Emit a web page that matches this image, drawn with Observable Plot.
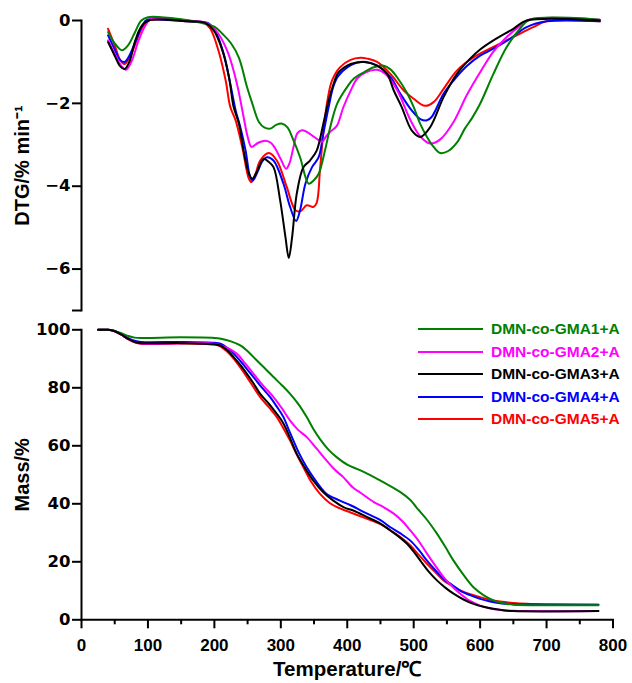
<!DOCTYPE html>
<html>
<head>
<meta charset="utf-8">
<script src="https://cdn.jsdelivr.net/npm/d3@7"></script>
<script src="https://cdn.jsdelivr.net/npm/@observablehq/plot@0.6"></script>
<style>
  html, body { margin: 0; padding: 0; background: #fff; }
  #wrap { position: relative; width: 632px; height: 683px; overflow: hidden; }
  #wrap svg { display: block; }
  #legend { position: absolute; left: 418px; top: 318px; font-family: "Liberation Sans", Arial, sans-serif; font-weight: bold; font-size: 15.5px; }
  .row { display: flex; align-items: center; height: 22.5px; }
  .sw { width: 65px; height: 2px; margin-right: 8px; flex: none; }
  .ytick text { font-family: "DejaVu Sans", sans-serif; font-size: 16.5px; }
</style>
</head>
<body>
<div id="wrap"></div>
<script>
// ---------- labels / ticks ----------
const seriesNames = ["DMN-co-GMA1+A", "DMN-co-GMA2+A", "DMN-co-GMA3+A", "DMN-co-GMA4+A", "DMN-co-GMA5+A"];
const seriesColors = ["#008000", "#ff00ff", "#000000", "#0000ff", "#ff0000"];
const xLabel = "Temperature/\u2103";
const dtgLabel = "DTG/% min\u207B\u00B9";
const massLabel = "Mass/%";
const xTicks = [0, 100, 200, 300, 400, 500, 600, 700, 800];
const xMinorTicks = [50, 150, 250, 350, 450, 550, 650, 750];
const dtgTicks = [0, -2, -4, -6, -7];
const massTicks = [0, 20, 40, 60, 80, 100];
const xDomain = [0, 800];
const dtgDomain = [-7, 0];
const massDomain = [0, 100];

// ---------- DTG curves [temperature, DTG] ----------
const dtg1 = [[40,-0.28],[50,-0.55],[61,-0.72],[70,-0.6],[80,-0.3],[90,0.0],[100,0.08],[120,0.08],[150,0.03],[186,-0.08],[200,-0.15],[212,-0.32],[225,-0.55],[237,-0.9],[249,-1.6],[257,-2.0],[267,-2.45],[275,-2.58],[284,-2.61],[293,-2.52],[302,-2.49],[310,-2.58],[318,-2.85],[329,-3.3],[342,-3.94],[350,-3.85],[357,-3.7],[367,-3.1],[374,-2.6],[385,-2.0],[400,-1.6],[410,-1.4],[425,-1.25],[440,-1.13],[455,-1.09],[465,-1.18],[475,-1.37],[490,-1.75],[500,-2.09],[510,-2.5],[520,-2.81],[530,-3.05],[540,-3.2],[552,-3.15],[565,-2.95],[577,-2.61],[588,-2.35],[600,-2.01],[620,-1.29],[640,-0.64],[660,-0.2],[675,0.02],[780,0.02]];
const dtg2 = [[40,-0.48],[50,-0.8],[60,-1.1],[67,-1.19],[75,-1.0],[86,-0.48],[95,-0.15],[104,0.04],[130,0.05],[160,0.0],[191,-0.08],[206,-0.32],[221,-0.8],[234,-1.53],[244,-2.33],[250,-2.8],[256,-3.05],[266,-2.95],[277,-2.9],[285,-2.95],[292,-3.1],[300,-3.35],[308,-3.58],[313,-3.45],[319,-3.06],[325,-2.72],[332,-2.65],[339,-2.69],[352,-2.83],[362,-2.93],[368,-2.8],[374,-2.69],[384,-2.55],[394,-2.1],[405,-1.7],[415,-1.4],[428,-1.25],[445,-1.19],[458,-1.3],[475,-1.68],[495,-2.4],[510,-2.8],[525,-2.97],[540,-2.87],[560,-2.45],[580,-1.8],[600,-1.25],[620,-0.75],[640,-0.4],[660,-0.13],[675,0.03],[780,0.02]];
const dtg3 = [[40,-0.52],[50,-0.85],[58,-1.1],[65,-1.17],[72,-1.0],[81,-0.48],[90,-0.15],[101,0.0],[130,0.02],[160,-0.02],[185,-0.05],[199,-0.24],[212,-0.72],[222,-1.37],[229,-2.09],[237,-2.49],[244,-3.14],[252,-3.7],[257,-3.82],[264,-3.65],[274,-3.34],[281,-3.4],[289,-3.54],[299,-4.34],[307,-5.23],[312,-5.73],[317,-5.23],[324,-4.18],[334,-3.54],[344,-3.38],[354,-3.14],[364,-2.49],[372,-1.93],[379,-1.55],[386,-1.27],[394,-1.15],[405,-1.05],[425,-1.0],[445,-1.09],[460,-1.29],[470,-1.69],[482,-2.09],[497,-2.65],[510,-2.81],[525,-2.57],[545,-1.85],[565,-1.29],[585,-0.92],[600,-0.7],[620,-0.48],[650,-0.2],[670,0.0],[780,0.0]];
const dtg4 = [[40,-0.36],[50,-0.7],[58,-0.95],[65,-1.0],[72,-0.85],[84,-0.4],[92,-0.1],[99,0.02],[130,0.01],[160,-0.02],[190,-0.06],[201,-0.24],[214,-0.8],[224,-1.53],[232,-2.17],[239,-2.57],[247,-3.14],[254,-3.78],[258,-3.86],[265,-3.65],[272,-3.4],[279,-3.3],[289,-3.38],[304,-3.94],[314,-4.5],[323,-4.84],[329,-4.58],[337,-3.94],[347,-3.54],[357,-3.3],[364,-2.73],[372,-2.09],[379,-1.6],[386,-1.35],[400,-1.13],[420,-1.0],[445,-1.09],[465,-1.37],[480,-1.77],[497,-2.17],[510,-2.38],[520,-2.41],[527,-2.33],[545,-1.77],[560,-1.45],[580,-1.1],[600,-0.85],[620,-0.68],[645,-0.44],[670,-0.16],[700,-0.02],[780,-0.02]];
const dtg5 = [[40,-0.2],[50,-0.6],[58,-0.95],[65,-1.05],[75,-0.8],[89,-0.24],[97,-0.05],[104,0.02],[130,0.02],[160,-0.02],[185,-0.06],[194,-0.2],[206,-0.72],[217,-1.45],[224,-2.09],[232,-2.41],[242,-3.06],[252,-3.82],[256,-3.9],[262,-3.7],[269,-3.38],[282,-3.2],[294,-3.38],[309,-4.02],[322,-4.58],[330,-4.6],[339,-4.46],[349,-4.5],[354,-4.4],[359,-3.6],[364,-2.7],[370,-1.95],[377,-1.45],[389,-1.13],[405,-0.95],[420,-0.9],[430,-0.92],[445,-1.0],[465,-1.29],[485,-1.69],[500,-1.89],[517,-2.06],[530,-1.97],[545,-1.65],[565,-1.21],[590,-0.89],[620,-0.64],[650,-0.4],[680,-0.16],[700,-0.02],[780,-0.02]];

// ---------- Mass curves [temperature, mass %] ----------
const mass1 = [[25,100],[40,100],[50,99.6],[60,98.8],[70,97.9],[80,97.3],[95,97.2],[150,97.4],[200,97.2],[210,96.9],[225,96.0],[239,94.6],[252,92.2],[264,89.4],[277,86.5],[289,83.7],[302,80.8],[314,77.9],[327,74.2],[339,69.9],[349,65.8],[359,62.3],[372,58.6],[384,56.1],[400,53.5],[420,51.5],[450,48.0],[480,44.0],[495,41.3],[504,38.8],[520,34.5],[535,29.7],[548,25.0],[560,20.4],[575,15.5],[590,11.2],[605,8.5],[620,6.7],[635,5.7],[650,5.2],[700,5.0],[778,5.0]];
const mass2 = [[25,100],[40,100],[50,99.5],[60,98.3],[70,96.9],[80,95.8],[90,95.3],[150,95.4],[200,95.2],[209,94.6],[222,93.5],[234,91.7],[246,88.5],[259,84.8],[274,80.6],[289,76.8],[302,72.8],[314,68.7],[326,65.5],[339,63.0],[354,59.0],[369,54.9],[381,51.8],[394,49.2],[409,45.5],[420,43.8],[440,40.6],[455,38.8],[470,36.6],[483,34.0],[495,30.8],[508,27.0],[520,22.8],[533,18.5],[545,14.7],[558,11.5],[570,9.0],[585,6.5],[600,4.9],[615,3.9],[630,3.4],[650,3.1],[670,3.0],[778,3.0]];
const mass3 = [[25,100],[40,100],[50,99.5],[60,98.3],[70,96.9],[80,95.8],[90,95.4],[150,95.4],[200,95.0],[209,94.6],[219,93.0],[229,90.6],[239,87.9],[249,84.8],[259,81.5],[269,77.9],[282,74.5],[294,71.0],[302,68.5],[309,65.3],[316,61.5],[324,57.2],[336,52.5],[349,48.0],[364,44.0],[379,41.1],[395,38.8],[410,37.6],[430,35.4],[450,33.2],[465,30.8],[478,28.6],[490,26.2],[500,23.5],[510,20.4],[522,16.8],[535,13.6],[548,11.0],[560,9.0],[575,7.0],[590,5.5],[605,4.5],[620,3.8],[635,3.3],[650,3.0],[778,3.0]];
const mass4 = [[25,100],[40,100],[50,99.6],[60,98.5],[70,97.2],[80,96.2],[90,95.8],[150,95.8],[200,95.5],[209,95.2],[222,93.3],[234,90.6],[246,87.3],[259,83.7],[271,80.2],[284,76.8],[294,73.5],[304,69.9],[312,65.5],[319,61.8],[328,57.2],[339,52.6],[354,47.5],[369,43.4],[389,41.1],[405,39.5],[430,36.6],[450,34.4],[465,31.9],[480,29.8],[495,27.3],[508,24.0],[520,20.4],[533,17.0],[545,14.1],[558,12.0],[570,10.1],[585,8.5],[600,7.2],[615,6.3],[630,5.7],[650,5.4],[670,5.3],[778,5.2]];
const mass5 = [[25,100],[40,100],[50,99.5],[60,98.3],[70,96.8],[80,95.7],[90,95.2],[150,95.3],[200,94.9],[209,94.3],[219,92.5],[229,90.1],[239,87.0],[249,83.7],[259,80.2],[269,76.8],[282,73.3],[294,69.9],[304,66.0],[314,61.8],[324,57.0],[334,52.6],[346,47.5],[359,43.4],[374,40.2],[389,38.4],[405,37.0],[430,34.8],[450,33.0],[465,30.8],[480,28.5],[495,25.6],[508,22.3],[520,19.3],[533,16.3],[545,13.6],[558,11.7],[570,10.1],[585,8.8],[600,7.8],[615,6.9],[630,6.3],[650,5.8],[670,5.5],[700,5.3],[778,5.2]];

const dtgSeries = [dtg1, dtg2, dtg3, dtg4, dtg5];
const massSeries = [mass1, mass2, mass3, mass4, mass5];

const FONT = "'Liberation Sans', Arial, Helvetica, sans-serif";
const baseStyle = {fontFamily: FONT, fontSize: "17px", fontWeight: "bold", color: "#000", background: "#fff", overflow: "visible"};

const drawOrder = [4, 3, 1, 0, 2];

function lineMarks(series) {
  return drawOrder.map(i => Plot.line(series[i], {x: d => d[0], y: d => d[1], stroke: seriesColors[i], strokeWidth: 2, curve: "catmull-rom"}));
}

const fmtDtg = d => d === -7 ? "" : (d === 0 ? "0" : "\u2212" + Math.abs(d));
const labelOpts = {frameAnchor: "left", rotate: -90, dx: -58.5, textAnchor: "middle", lineAnchor: "middle", text: d => d, fontSize: 20, fontWeight: "bold"};

const dtgPlot = Plot.plot({
  width: 632, height: 320,
  marginLeft: 81, marginRight: 19.5, marginTop: 20, marginBottom: 10,
  style: baseStyle,
  x: {domain: xDomain, axis: null},
  y: {domain: dtgDomain, axis: null},
  marks: [
    Plot.axisY({ticks: dtgTicks, tickFormat: fmtDtg, tickSize: 9, tickPadding: 2, strokeWidth: 2, label: null, className: "ytick"}),
    Plot.frame({anchor: "left", strokeWidth: 2}),
    ...lineMarks(dtgSeries),
    Plot.text([dtgLabel], labelOpts)
  ]
});

const massPlot = Plot.plot({
  width: 632, height: 363,
  marginLeft: 81, marginRight: 19.5, marginTop: 9.3, marginBottom: 63.7,
  style: baseStyle,
  x: {domain: xDomain, axis: null},
  y: {domain: massDomain, axis: null},
  marks: [
    Plot.axisY({ticks: massTicks, tickSize: 9, tickPadding: 2, strokeWidth: 2, label: null, className: "ytick"}),
    Plot.axisX({ticks: xTicks, tickSize: 9, tickPadding: 10, strokeWidth: 2, label: null}),
    Plot.axisX({ticks: xMinorTicks, tickSize: 5, tickFormat: () => "", strokeWidth: 2, label: null}),
    Plot.frame({anchor: "left", strokeWidth: 2}),
    Plot.frame({anchor: "bottom", strokeWidth: 2}),
    ...lineMarks(massSeries),
    Plot.text([massLabel], labelOpts),
    Plot.text([xLabel], {frameAnchor: "bottom", dy: 50, textAnchor: "middle", lineAnchor: "middle", text: d => d, fontSize: 20.5, fontWeight: "bold"})
  ]
});

const wrap = document.getElementById("wrap");
wrap.appendChild(dtgPlot);
wrap.appendChild(massPlot);

// legend
const legend = document.createElement("div");
legend.id = "legend";
seriesNames.forEach((n, i) => {
  const row = document.createElement("div");
  row.className = "row";
  const sw = document.createElement("div");
  sw.className = "sw";
  sw.style.backgroundColor = seriesColors[i];
  const tx = document.createElement("span");
  tx.textContent = n;
  tx.style.color = seriesColors[i];
  row.appendChild(sw);
  row.appendChild(tx);
  legend.appendChild(row);
});
wrap.appendChild(legend);
</script>
</body>
</html>
